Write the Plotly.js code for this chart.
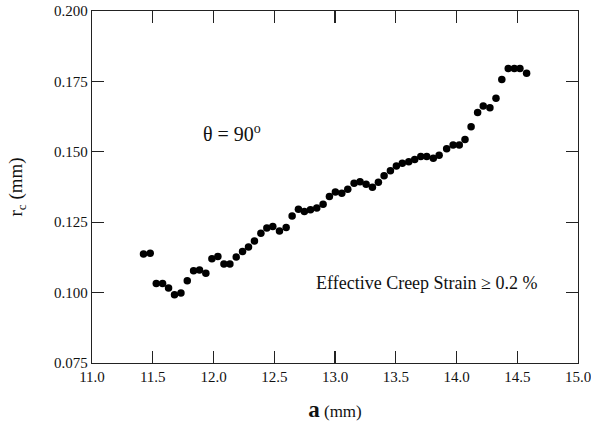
<!DOCTYPE html>
<html>
<head>
<meta charset="utf-8">
<script src="https://cdn.plot.ly/plotly-3.0.1.min.js"></script>
<style>html,body{margin:0;padding:0;background:#fff;}#chart{width:591px;height:433px;}</style>
</head>
<body>
<div id="chart"></div>
<script>
const crackLength = [11.424, 11.479, 11.529, 11.581, 11.630, 11.679, 11.732, 11.784, 11.836, 11.885,
  11.937, 11.987, 12.036, 12.086, 12.135, 12.187, 12.239, 12.288, 12.337, 12.390,
  12.439, 12.488, 12.543, 12.598, 12.647, 12.699, 12.748, 12.798, 12.850, 12.902,
  12.954, 13.003, 13.056, 13.105, 13.157, 13.206, 13.256, 13.308, 13.357, 13.404,
  13.456, 13.505, 13.554, 13.607, 13.656, 13.706, 13.755, 13.809, 13.857, 13.919,
  13.972, 14.023, 14.070, 14.120, 14.174, 14.220, 14.275, 14.325, 14.373, 14.426,
  14.476, 14.522, 14.577];
const rc = [0.1137, 0.1140, 0.1032, 0.1032, 0.1016, 0.0992, 0.0999, 0.1042, 0.1078, 0.1080,
  0.1069, 0.1120, 0.1128, 0.1102, 0.1102, 0.1126, 0.1146, 0.1162, 0.1183, 0.1211,
  0.1229, 0.1235, 0.1219, 0.1231, 0.1272, 0.1296, 0.1288, 0.1294, 0.1300, 0.1314,
  0.1341, 0.1357, 0.1353, 0.1367, 0.1388, 0.1394, 0.1385, 0.1374, 0.1392, 0.1415,
  0.1433, 0.1450, 0.1459, 0.1465, 0.1473, 0.1483, 0.1483, 0.1477, 0.1488, 0.1511,
  0.1524, 0.1524, 0.1544, 0.1589, 0.1640, 0.1663, 0.1656, 0.1690, 0.1757, 0.1796,
  0.1796, 0.1796, 0.1779];
const xTicks = [11.0, 11.5, 12.0, 12.5, 13.0, 13.5, 14.0, 14.5, 15.0];
const yTicks = [0.075, 0.100, 0.125, 0.150, 0.175, 0.200];
const angleLabel = "θ = 90<sup>o</sup>";
const strainLabel = "Effective Creep Strain ≥ 0.2 %";

const font = "Liberation Serif, Times New Roman, serif";
const axisCommon = {
  showgrid: false, zeroline: false, showline: true, linecolor: "#222", linewidth: 1.3,
  mirror: "ticks", ticks: "inside", ticklen: 12, tickwidth: 1.2, tickcolor: "#222",
  ticklabeloverflow: "allow",
  tickfont: {family: font, size: 15, color: "#111"}
};
const trace = {
  x: crackLength, y: rc, mode: "markers", type: "scatter",
  marker: {color: "#000", size: 7.5}, hoverinfo: "x+y"
};
const layout = {
  width: 591, height: 433,
  margin: {l: 92, r: 13, t: 11, b: 70},
  paper_bgcolor: "#fff", plot_bgcolor: "#fff",
  showlegend: false,
  xaxis: Object.assign({}, axisCommon, {
    range: [11.0, 15.0], tickvals: xTicks, ticktext: xTicks.map(v => v.toFixed(1)),
    title: {text: "<span style='font-size:23px'><b>a</b></span> (mm)", font: {family: font, size: 17, color: "#111"}, standoff: 20}
  }),
  yaxis: Object.assign({}, axisCommon, {
    range: [0.075, 0.200], tickvals: yTicks, ticktext: yTicks.map(v => v.toFixed(3)),
    title: {text: "r<sub>c</sub> (mm)", font: {family: font, size: 19, color: "#111"}, standoff: 26}
  }),
  annotations: [
    {x: 12.15, y: 0.1567, xref: "x", yref: "y", text: angleLabel, showarrow: false,
     font: {family: font, size: 20, color: "#111"}},
    {x: 13.75, y: 0.1035, xref: "x", yref: "y", text: strainLabel, showarrow: false,
     font: {family: font, size: 18, color: "#111"}}
  ]
};
Plotly.newPlot("chart", [trace], layout, {displayModeBar: false, staticPlot: true});
</script>
</body>
</html>
